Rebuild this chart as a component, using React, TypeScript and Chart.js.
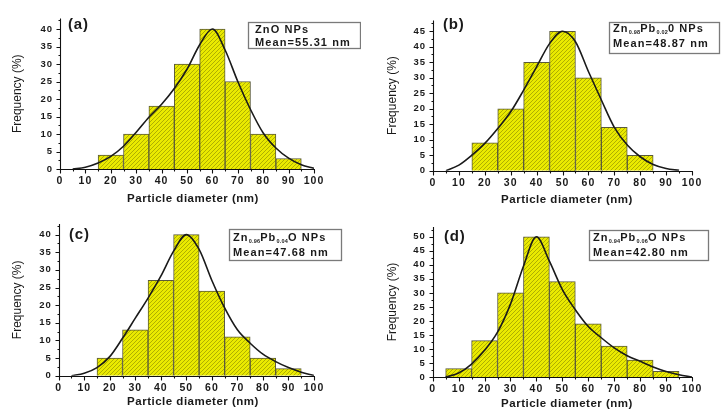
import React, { useEffect, useRef } from 'react';
import { Chart, registerables } from 'chart.js';

Chart.register(...registerables);

// ---------- data ----------
const xTickLabels = [0, 10, 20, 30, 40, 50, 60, 70, 80, 90, 100];

// (a) ZnO
const binCentersA = [20, 30, 40, 50, 60, 70, 80, 90];
const frequencyA = [4, 10, 18, 30, 40, 25, 10, 3];
const curveDiameterA = [5, 10, 15, 20, 25, 30, 35, 40, 45, 50, 55, 60, 65, 70, 75, 80, 85, 90, 95, 100];
const curveFrequencyA = [0, 0.5, 1.7, 3.6, 6.5, 10.5, 14.8, 18.5, 23, 28.5, 35.5, 40, 34, 25, 17, 10.3, 6, 3.1, 1.2, 0.2];

// (b) Zn0.98Pb0.02O
const binCentersB = [20, 30, 40, 50, 60, 70, 80];
const frequencyB = [9, 20, 35, 45, 30, 14, 5];
const curveDiameterB = [5, 10, 15, 20, 25, 30, 35, 40, 45, 50, 55, 60, 65, 70, 75, 80, 85, 90, 95];
const curveFrequencyB = [0, 1.8, 5, 8.8, 13.6, 19, 26, 33.5, 41, 45, 41.6, 32, 22.8, 14, 8.3, 4.5, 2, 0.7, 0.1];

// (c) Zn0.96Pb0.04O
const binCentersC = [20, 30, 40, 50, 60, 70, 80, 90];
const frequencyC = [5, 13, 27, 40, 24, 11, 5, 2];
const curveDiameterC = [5, 10, 15, 20, 25, 30, 35, 40, 45, 50, 55, 60, 65, 70, 75, 80, 85, 90, 95, 100];
const curveFrequencyC = [0, 0.7, 2.3, 5.4, 10.6, 16.3, 22, 28.2, 35.3, 40, 35.8, 27, 19.2, 13, 9.2, 6.1, 4, 2.3, 1, 0];

// (d) Zn0.94Pb0.06O
const binCentersD = [10, 20, 30, 40, 50, 60, 70, 80, 90];
const frequencyD = [3, 13, 30, 50, 34, 19, 11, 6, 2];
const curveDiameterD = [5, 10, 15, 20, 25, 30, 35, 40, 45, 50, 55, 60, 65, 70, 75, 80, 85, 90, 95, 100];
const curveFrequencyD = [0, 1.4, 4.6, 9.5, 16, 26, 39.5, 50, 41.3, 31.2, 24, 18, 14, 10.4, 7.6, 5.6, 3.6, 2, 0.8, 0];

const yTitle = 'Frequency (%)';
const xTitle = 'Particle diameter (nm)';

type Seg = { t: string; sub?: boolean };

const panels = [
  {
    key: 'a', left: 0, top: 0, w: 361, h: 205, yMax: 43, padTop: 18.5, padRight: 47, yW: 60, xH: 36,
    centers: binCentersA, freq: frequencyA, cx: curveDiameterA, cy: curveFrequencyA,
    label: '(a)', labelPos: [68, 25],
    box: [248, 22, 112, 26],
    line1: [{ t: 'ZnO NPs' }] as Seg[], line1Pos: [255, 30],
    line2: 'Mean=55.31 nm', line2Pos: [255, 43],
    yTitleX: 18, xTitlePos: [193, 199],
  },
  {
    key: 'b', left: 361, top: 0, w: 362, h: 205, yMax: 48.5, padTop: 20.4, padRight: 31, yW: 72, xH: 34.3,
    centers: binCentersB, freq: frequencyB, cx: curveDiameterB, cy: curveFrequencyB,
    label: '(b)', labelPos: [82, 25],
    box: [248, 22, 110, 31],
    line1: [{ t: 'Zn' }, { t: '0.98', sub: true }, { t: 'Pb' }, { t: '0.02', sub: true }, { t: '0 NPs' }] as Seg[], line1Pos: [252, 29],
    line2: 'Mean=48.87 nm', line2Pos: [252, 44],
    yTitleX: 32, xTitlePos: [206, 200],
  },
  {
    key: 'c', left: 0, top: 205, w: 361, h: 204, yMax: 43, padTop: 19, padRight: 47, yW: 58.7, xH: 33.3,
    centers: binCentersC, freq: frequencyC, cx: curveDiameterC, cy: curveFrequencyC,
    label: '(c)', labelPos: [69, 30],
    box: [229, 24, 112, 31],
    line1: [{ t: 'Zn' }, { t: '0.96', sub: true }, { t: 'Pb' }, { t: '0.04', sub: true }, { t: 'O NPs' }] as Seg[], line1Pos: [233, 33],
    line2: 'Mean=47.68 nm', line2Pos: [233, 48],
    yTitleX: 18, xTitlePos: [193, 197],
  },
  {
    key: 'd', left: 361, top: 205, w: 362, h: 204, yMax: 53.5, padTop: 22, padRight: 31, yW: 71.7, xH: 32,
    centers: binCentersD, freq: frequencyD, cx: curveDiameterD, cy: curveFrequencyD,
    label: '(d)', labelPos: [83, 32],
    box: [228, 25, 119, 30],
    line1: [{ t: 'Zn' }, { t: '0.94', sub: true }, { t: 'Pb' }, { t: '0.06', sub: true }, { t: 'O NPs' }] as Seg[], line1Pos: [232, 33],
    line2: 'Mean=42.80 nm', line2Pos: [232, 48],
    yTitleX: 32, xTitlePos: [206, 199],
  },
];

const FONT = "'Liberation Sans', Arial, sans-serif";
const TXT = '#1a1a1a';

function makeHatch(): CanvasPattern | string {
  const c = document.createElement('canvas');
  c.width = 4; c.height = 4;
  const g = c.getContext('2d');
  if (!g) return '#e0e000';
  g.fillStyle = '#eaea00';
  g.fillRect(0, 0, 4, 4);
  g.strokeStyle = 'rgba(110,110,0,0.6)';
  g.lineWidth = 0.8;
  g.beginPath();
  g.moveTo(0, 4); g.lineTo(4, 0);
  g.moveTo(-1, 1); g.lineTo(1, -1);
  g.moveTo(3, 5); g.lineTo(5, 3);
  g.stroke();
  const p = g.createPattern(c, 'repeat');
  return p || '#e0e000';
}

function makeDecor(cfg: any) {
  return {
    id: 'decor_' + cfg.key,
    beforeDraw(chart: any) {
      chart.ctx.letterSpacing = '1px';
    },
    afterDraw(chart: any) {
      const ctx: CanvasRenderingContext2D = chart.ctx;
      const ca = chart.chartArea;
      const xs = chart.scales.x;
      const ys = chart.scales.y;
      ctx.save();
      (ctx as any).letterSpacing = '0px';
      ctx.strokeStyle = '#111';
      ctx.lineWidth = 1.1;
      const ax = Math.round(ca.left) + 0.5;
      const ay = Math.round(ca.bottom) + 0.5;
      ctx.beginPath();
      ctx.moveTo(ax, ca.top);
      ctx.lineTo(ax, ay);
      ctx.lineTo(ca.right + 1, ay);
      ys.ticks.forEach((t: any) => {
        const py = Math.round(ys.getPixelForValue(t.value)) + 0.5;
        ctx.moveTo(ax - 4, py); ctx.lineTo(ax, py);
        const mv = t.value + 2.5;
        if (mv <= ys.max) {
          const pm = Math.round(ys.getPixelForValue(mv)) + 0.5;
          ctx.moveTo(ax - 2, pm); ctx.lineTo(ax, pm);
        }
      });
      xs.ticks.forEach((t: any) => {
        const px = Math.round(xs.getPixelForValue(t.value)) + 0.5;
        ctx.moveTo(px, ay); ctx.lineTo(px, ay + 4);
        const mv = t.value + 5;
        if (mv <= xs.max) {
          const pm = Math.round(xs.getPixelForValue(mv)) + 0.5;
          ctx.moveTo(pm, ay); ctx.lineTo(pm, ay + 2);
        }
      });
      ctx.stroke();

      ctx.fillStyle = TXT;
      ctx.save();
      ctx.translate(cfg.yTitleX, (ca.top + ca.bottom) / 2);
      ctx.rotate(-Math.PI / 2);
      ctx.font = `12px ${FONT}`;
      ctx.textAlign = 'center';
      ctx.textBaseline = 'middle';
      (ctx as any).letterSpacing = '0px';
      ctx.fillText(yTitle, 0, 0);
      ctx.restore();

      ctx.font = `bold 11.5px ${FONT}`;
      (ctx as any).letterSpacing = '0.5px';
      ctx.textAlign = 'center';
      ctx.textBaseline = 'middle';
      ctx.fillText(xTitle, cfg.xTitlePos[0], cfg.xTitlePos[1]);

      ctx.font = `bold 15px ${FONT}`;
      (ctx as any).letterSpacing = '0.8px';
      ctx.textAlign = 'left';
      ctx.fillText(cfg.label, cfg.labelPos[0], cfg.labelPos[1]);

      ctx.strokeStyle = '#7a7a7a';
      ctx.lineWidth = 1.3;
      ctx.strokeRect(cfg.box[0] + 0.5, cfg.box[1] + 0.5, cfg.box[2], cfg.box[3]);
      let tx = cfg.line1Pos[0];
      cfg.line1.forEach((s: Seg) => {
        if (s.sub) {
          ctx.font = `bold 5.5px ${FONT}`;
          (ctx as any).letterSpacing = '0.2px';
          ctx.fillText(s.t, tx, cfg.line1Pos[1] + 3.5);
        } else {
          ctx.font = `bold 11px ${FONT}`;
          (ctx as any).letterSpacing = '1.1px';
          ctx.fillText(s.t, tx, cfg.line1Pos[1]);
        }
        tx += ctx.measureText(s.t).width;
      });
      ctx.font = `bold 11px ${FONT}`;
      (ctx as any).letterSpacing = '1.1px';
      ctx.fillText(cfg.line2, cfg.line2Pos[0], cfg.line2Pos[1]);
      ctx.restore();
    },
  };
}

function Panel({ cfg }: { cfg: any }) {
  const ref = useRef<HTMLCanvasElement | null>(null);
  useEffect(() => {
    if (!ref.current) return;
    const hatch = makeHatch();
    const chart = new Chart(ref.current, {
      type: 'bar',
      data: {
        datasets: [
          {
            type: 'line',
            data: cfg.cx.map((x: number, i: number) => ({ x, y: cfg.cy[i] })),
            borderColor: '#1a1a1a',
            borderWidth: 1.6,
            pointRadius: 0,
            fill: false,
            cubicInterpolationMode: 'monotone',
          } as any,
          {
            type: 'bar',
            data: cfg.centers.map((x: number, i: number) => ({ x, y: cfg.freq[i] })),
            backgroundColor: hatch as any,
            borderColor: '#5a5a3a',
            borderWidth: 1,
            barPercentage: 1,
            categoryPercentage: 1,
          } as any,
        ],
      },
      options: {
        responsive: false,
        animation: false,
        events: [],
        layout: { padding: { left: 0, right: cfg.padRight, top: cfg.padTop, bottom: 0 } },
        plugins: { legend: { display: false }, tooltip: { enabled: false }, title: { display: false } },
        scales: {
          x: {
            type: 'linear',
            min: 0,
            max: 100,
            offset: false,
            grid: { display: false, drawTicks: false },
            border: { display: false },
            afterBuildTicks: (s: any) => { s.ticks = xTickLabels.map((v) => ({ value: v })); },
            ticks: {
              stepSize: 10,
              padding: 6,
              color: TXT,
              maxRotation: 0,
              autoSkip: false,
              font: { family: FONT, weight: 'bold', size: 10.5 },
            },
            afterFit: (s: any) => { s.height = cfg.xH; },
          },
          y: {
            min: 0,
            max: cfg.yMax,
            grid: { display: false, drawTicks: false },
            border: { display: false },
            ticks: {
              stepSize: 5,
              includeBounds: false,
              padding: 7,
              color: TXT,
              font: { family: FONT, weight: 'bold', size: 9.5 },
            },
            afterFit: (s: any) => { s.width = cfg.yW; },
          },
        } as any,
      },
      plugins: [makeDecor(cfg)],
    });
    return () => chart.destroy();
  }, [cfg]);
  return (
    <div style={{ position: 'absolute', left: cfg.left, top: cfg.top, width: cfg.w, height: cfg.h }}>
      <canvas ref={ref} width={cfg.w} height={cfg.h} style={{ width: cfg.w, height: cfg.h, display: 'block' }} />
    </div>
  );
}

export default function App() {
  return (
    <div style={{ position: 'fixed', left: 0, top: 0, width: 723, height: 409, background: '#fff', overflow: 'hidden' }}>
      {panels.map((p) => (
        <Panel key={p.key} cfg={p} />
      ))}
    </div>
  );
}
